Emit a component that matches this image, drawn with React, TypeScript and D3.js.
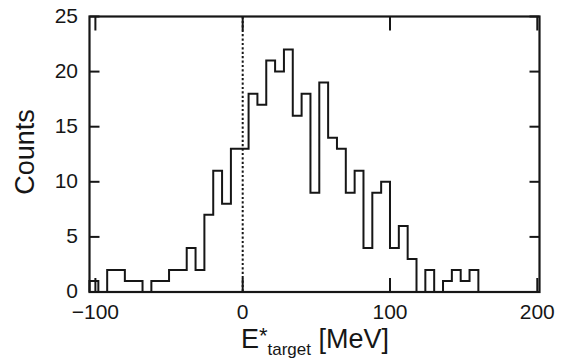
import React from "react";
import * as d3 from "d3";

// Histogram: bin lower edges start at binStart, fixed bin width (MeV)
const binStart = -104;
const binWidth = 6;
const counts = [
  1, 0, 2, 2, 1, 1, 0, 1, 1, 2, 2, 4, 2, 7, 11, 8, 13, 13, 18, 17, 21, 20, 22,
  16, 18, 9, 19, 14, 13, 9, 11, 4, 9, 10, 4, 6, 3, 0, 2, 0, 1, 2, 1, 2, 0,
];
const xTicks = [-100, 0, 100, 200];
const yTicks = [0, 5, 10, 15, 20, 25];
const xDomain = [-104, 201.5];
const yDomain = [0, 25];

const W = 571;
const H = 358;
const left = 89.5;
const right = 539.5;
const top = 16.5;
const bottom = 292;
const FONT = "'Liberation Sans', Arial, Helvetica, sans-serif";
const INK = "#161616";

export default function App() {
  const x = d3.scaleLinear().domain(xDomain).range([left, right]);
  const y = d3.scaleLinear().domain(yDomain).range([bottom, top]);

  // step path
  let path = `M${x(binStart)},${y(0)}`;
  counts.forEach((c, i) => {
    const x1 = binStart + (i + 1) * binWidth;
    path += `V${y(c)}H${x(x1)}`;
  });
  path += `V${y(0)}`;

  return (
    <svg
      width={W}
      height={H}
      style={{ position: "absolute", left: 0, top: 0, background: "#fff" }}
      fontFamily={FONT}
    >
      <rect x={0} y={0} width={W} height={H} fill="#fff" />
      {/* dotted line at 0 */}
      <line
        x1={x(0)}
        x2={x(0)}
        y1={top}
        y2={bottom}
        stroke={INK}
        strokeWidth={2}
        strokeDasharray="2.2,2.2"
      />
      {/* histogram */}
      <path d={path} fill="none" stroke={INK} strokeWidth={2} />
      {/* frame */}
      <rect
        x={left}
        y={top}
        width={right - left}
        height={bottom - top}
        fill="none"
        stroke={INK}
        strokeWidth={2.2}
      />
      {/* x ticks */}
      {xTicks.map((t) => (
        <g key={"x" + t}>
          <line x1={x(t)} x2={x(t)} y1={bottom} y2={bottom - 14} stroke={INK} strokeWidth={2} />
          <line x1={x(t)} x2={x(t)} y1={top} y2={top + 14} stroke={INK} strokeWidth={2} />
          <text x={x(t)} y={318.5} textAnchor="middle" fontSize={21} fill={INK}>
            {t < 0 ? "\u2212" + Math.abs(t) : t}
          </text>
        </g>
      ))}
      {/* y ticks */}
      {yTicks.map((t) => (
        <g key={"y" + t}>
          <line x1={left} x2={left + 10} y1={y(t)} y2={y(t)} stroke={INK} strokeWidth={2} />
          <line x1={right} x2={right - 10} y1={y(t)} y2={y(t)} stroke={INK} strokeWidth={2} />
          <text x={78} y={y(t)} dy="0.3em" textAnchor="end" fontSize={21} fill={INK}>
            {t}
          </text>
        </g>
      ))}
      {/* y title */}
      <text
        transform="translate(34,152) rotate(-90)"
        textAnchor="middle"
        fontSize={27}
        fill={INK}
      >
        Counts
      </text>
      {/* x title */}
      <text x={315} y={348} textAnchor="middle" fontSize={27} fill={INK}>
        E
        <tspan dy={-5} fontSize={22}>*</tspan>
        <tspan dy={12} fontSize={17}>target</tspan>
        <tspan dy={-7}> [MeV]</tspan>
      </text>
    </svg>
  );
}
